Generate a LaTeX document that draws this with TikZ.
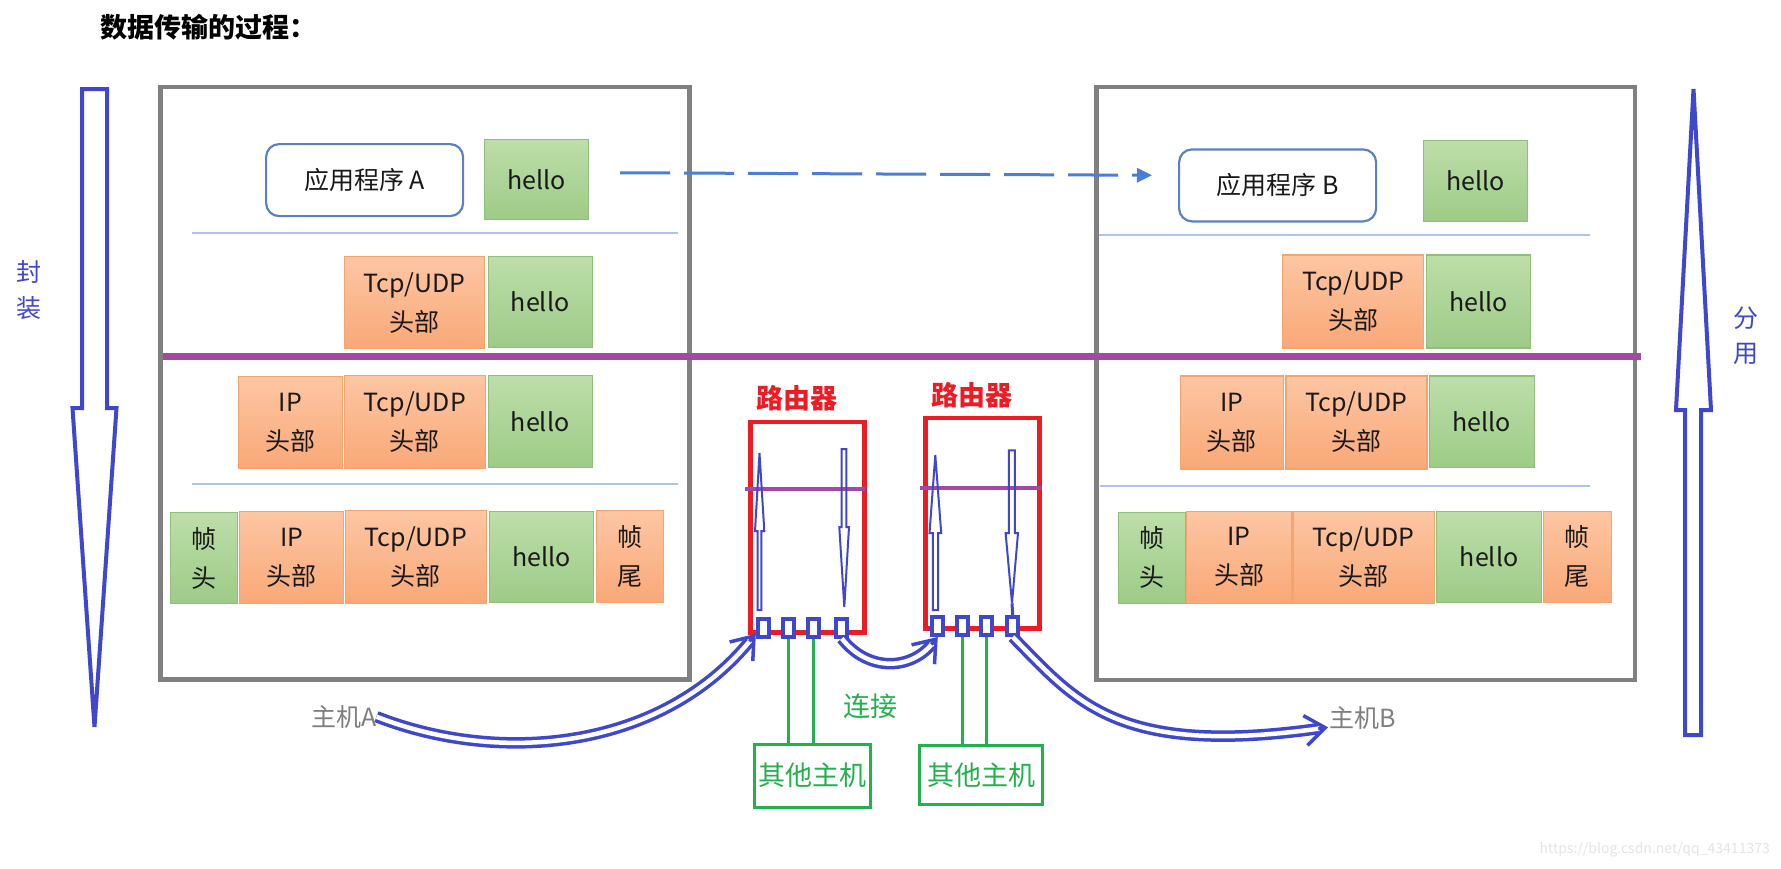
\documentclass[tikz,border=0pt]{standalone}
\usepackage{fontspec}
\setmainfont{Noto Sans CJK SC}
\usetikzlibrary{arrows.meta,calc}
\definecolor{pblue}{HTML}{3F48CC}
\definecolor{pred}{HTML}{ED1C24}
\definecolor{pgreen}{HTML}{22B14C}
\definecolor{ppurple}{HTML}{A349A4}
\definecolor{hgray}{HTML}{808080}
\definecolor{lblue}{HTML}{AFC3E6}
\definecolor{dblue}{HTML}{4A7FD8}
\definecolor{appblue}{HTML}{5B80C8}
\definecolor{orTop}{HTML}{FDC6A3}
\definecolor{orBot}{HTML}{F9A877}
\definecolor{orLine}{HTML}{F6A46E}
\definecolor{grTop}{HTML}{BDDEA9}
\definecolor{grBot}{HTML}{9DCB87}
\definecolor{grLine}{HTML}{8FBF78}
\definecolor{txtgray}{HTML}{7F7F7F}
\definecolor{wmgray}{HTML}{E4E4E4}
\tikzset{
 boxtext/.style={font=\fontsize{25}{39}\selectfont, align=center, inner sep=0pt, anchor=north west, text=black!90},
 obox/.style={boxtext, draw=orLine, line width=1.2pt, top color=orTop, bottom color=orBot},
 gbox/.style={boxtext, draw=grLine, line width=1.2pt, top color=grTop, bottom color=grBot},
 appbox/.style={boxtext, draw=appblue, line width=2.2pt, rounded corners=13pt, fill=white},
 hostframe/.style={draw=hgray, line width=4.5pt},
 layerline/.style={draw=lblue, line width=2pt},
 purpleline/.style={draw=ppurple, line width=7pt},
 rpurple/.style={draw=ppurple, line width=4pt},
 bigarrow/.style={draw=pblue, line width=4pt, line join=miter},
 smallarrow/.style={draw=pblue, line width=2pt},
 routerbox/.style={draw=pred, line width=4.7pt, minimum width=114pt, minimum height=210.4pt, inner sep=0pt, anchor=north west},
 portbox/.style={draw=pblue, line width=4pt, minimum width=11pt, minimum height=18pt, inner sep=0pt, fill=white},
 otherhost/.style={draw=pgreen, line width=3pt, inner sep=0pt, anchor=north west, text=pgreen, font=\fontsize{27}{27}\selectfont},
 greenwire/.style={draw=pgreen, line width=3pt},
 flowtip/.style={draw=pblue, line width=3.5pt, -{Straight Barb[length=20pt,width=30pt]}},
 flowbody/.style={draw=pblue, line width=3.5pt, double=white, double distance=4.5pt, shorten >=10pt},
 dasharrow/.style={draw=dblue, line width=3pt, dash pattern=on 50pt off 14pt, -{Triangle[length=15pt,width=14pt]}},
 sidelabel/.style={text=pblue, font=\fontsize{25}{35.5}\selectfont, align=center, inner sep=0pt},
 hostlabel/.style={text=txtgray, font=\fontsize{25}{25}\selectfont, inner sep=0pt},
 routerlabel/.style={text=pred, font=\fontsize{27}{27}\selectfont\bfseries, inner sep=0pt},
}
\begin{document}
\begin{tikzpicture}[x=1pt,y=-1pt]
\useasboundingbox (0,0) rectangle (1781,868);
\fill[white] (0,0) rectangle (1781,868);

% title
\node[anchor=west, inner sep=0pt, font=\fontsize{27}{27}\selectfont\bfseries] (title) at (100,27) {数据传输的过程：};

% host frames
\draw[hostframe] (160.5,87) rectangle (689.5,679.5);
\draw[hostframe] (1096.5,87) rectangle (1635,680);

% layer lines
\draw[layerline] (192,233) -- (678,233);
\draw[layerline] (192,484) -- (678,484);
\draw[layerline] (1099,235) -- (1590,235);
\draw[layerline] (1100,486) -- (1590,486);

% purple split line
\draw[purpleline] (163,356) -- (1641,356);

% host A boxes
\node[appbox, minimum width=197pt, minimum height=72pt] (appA) at (265,143) {应用程序 A};
\node[gbox, minimum width=104pt, minimum height=80pt] (helloA1) at (484,139) {hello};
\node[obox, minimum width=140pt, minimum height=92pt] (tcpA2) at (344,256) {Tcp/UDP\\头部};
\node[gbox, minimum width=104pt, minimum height=91pt] (helloA2) at (487.5,256) {hello};
\node[obox, minimum width=103.5pt, minimum height=92pt] (ipA3) at (238,376) {IP\\头部};
\node[obox, minimum width=140.5pt, minimum height=93pt] (tcpA3) at (344,375) {Tcp/UDP\\头部};
\node[gbox, minimum width=104pt, minimum height=92pt] (helloA3) at (487.5,375) {hello};
\node[gbox, minimum width=66.5pt, minimum height=91pt] (fhA4) at (170,512) {帧\\头};
\node[obox, minimum width=104pt, minimum height=92pt] (ipA4) at (239,511) {IP\\头部};
\node[obox, minimum width=140.5pt, minimum height=93pt] (tcpA4) at (345,510) {Tcp/UDP\\头部};
\node[gbox, minimum width=104pt, minimum height=91pt] (helloA4) at (489,510.7) {hello};
\node[obox, minimum width=67pt, minimum height=92pt] (ftA4) at (596,510) {帧\\尾};

% host B boxes
\node[appbox, minimum width=197pt, minimum height=72pt] (appB) at (1178,148.3) {应用程序 B};
\node[gbox, minimum width=103.5pt, minimum height=80.7pt] (helloB1) at (1423,140) {hello};
\node[obox, minimum width=141pt, minimum height=93pt] (tcpB2) at (1282,254.3) {Tcp/UDP\\头部};
\node[gbox, minimum width=104pt, minimum height=93pt] (helloB2) at (1425.8,254.3) {hello};
\node[obox, minimum width=103.4pt, minimum height=93pt] (ipB3) at (1179.6,375.3) {IP\\头部};
\node[obox, minimum width=141pt, minimum height=93pt] (tcpB3) at (1285.4,375.3) {Tcp/UDP\\头部};
\node[gbox, minimum width=104.5pt, minimum height=91.5pt] (helloB3) at (1429,375.3) {hello};
\node[gbox, minimum width=67.6pt, minimum height=91pt] (fhB4) at (1117.6,511.7) {帧\\头};
\node[obox, minimum width=105pt, minimum height=92pt] (ipB4) at (1186,510.7) {IP\\头部};
\node[obox, minimum width=141.3pt, minimum height=92pt] (tcpB4) at (1292.4,510.7) {Tcp/UDP\\头部};
\node[gbox, minimum width=105pt, minimum height=91pt] (helloB4) at (1436,510.7) {hello};
\node[obox, minimum width=68pt, minimum height=91pt] (ftB4) at (1542.8,510.7) {帧\\尾};

% dashed arrow app A -> app B
\draw[dasharrow, shorten <=31pt, shorten >=26pt] ([yshift=7pt]helloA1.east) -- ([yshift=10pt]appB.west);

% big side arrows
\draw[bigarrow] (82,89) -- (107,89) -- (107,408) -- (116.5,408) -- (94.5,727) -- (72.5,408) -- (82,408) -- cycle;
\draw[bigarrow] (1685,735) -- (1701,735) -- (1701,410) -- (1711,410) -- (1693.5,89) -- (1676,410) -- (1685,410) -- cycle;
\node[sidelabel] (fengzhuang) at (29,290) {封\\装};
\node[sidelabel] (fenyong) at (1746,336) {分\\用};

% routers
\node[routerbox] (r1) at (748,419.6) {};
\node[routerbox] (r2) at (923,415.6) {};
\node[routerlabel] (r1lab) at (796.5,398) {路由器};
\node[routerlabel] (r2lab) at (971.5,395) {路由器};
\draw[rpurple] (745,489) -- (865,489);
\draw[rpurple] (920,488.3) -- (1041,488.3);

% router internal arrows
\draw[smallarrow] (757.7,610) -- (757.7,531) -- (755,531) -- (759.5,453) -- (764.3,531) -- (761.3,531) -- (761.3,610) -- cycle;
\draw[smallarrow] (841.7,449) -- (846.3,449) -- (846.3,527) -- (849,527) -- (844.3,607) -- (839.3,527) -- (841.7,527) -- cycle;
\draw[smallarrow] (932.9,610) -- (932.9,533) -- (929.5,533) -- (935.3,455) -- (941.2,533) -- (938.1,533) -- (938.1,610) -- cycle;
\draw[smallarrow] (1008.9,450.3) -- (1014.8,450.3) -- (1014.8,533) -- (1018,533) -- (1012,603.3) -- (1005.6,533) -- (1008.9,533) -- cycle;

% ports
\node[portbox] (r1p1) at (763.3,628.3) {};
\node[portbox] (r1p2) at (788.7,628.3) {};
\node[portbox] (r1p3) at (813,628.3) {};
\node[portbox] (r1p4) at (841.8,627.5) {};
\node[portbox] (r2p1) at (937.8,626) {};
\node[portbox] (r2p2) at (962.2,626) {};
\node[portbox] (r2p3) at (986,626) {};
\node[portbox] (r2p4) at (1012.7,626) {};
\draw[smallarrow, line width=3pt] (1012,603.3) -- (r2p4.north);

% other hosts
\node[otherhost, minimum width=116pt, minimum height=63.3pt] (oh1) at (752.5,742.5) {其他主机};
\node[otherhost, minimum width=123pt, minimum height=59pt] (oh2) at (918.2,743.8) {其他主机};
\draw[greenwire] (r1p2.south) -- (r1p2.south |- oh1.north);
\draw[greenwire] (r1p3.south) -- (r1p3.south |- oh1.north);
\draw[greenwire] (r2p2.south) -- (r2p2.south |- oh2.north);
\draw[greenwire] (r2p3.south) -- (r2p3.south |- oh2.north);
\node[text=pgreen, font=\fontsize{27}{27}\selectfont, inner sep=0pt] (lianjie) at (870.3,706) {连接};

% host labels
\node[hostlabel] (hostA) at (343.7,716.7) {主机A};
\node[hostlabel] (hostB) at (1362.5,718.3) {主机B};

% flows
\coordinate (r1tip) at ($(r1p1.west)!0.5!(r1p1.south west)$);
\coordinate (hBtip) at ($(hostB.west)+(-1,9)$);
\draw[flowtip] (hostA.east) .. controls (500,765) and (660,750) .. (r1tip);
\draw[flowbody] (hostA.east) .. controls (500,765) and (660,750) .. (r1tip);
\draw[flowtip] (r1p4.south) .. controls (868,672) and (910,670) .. (r2p1.south);
\draw[flowbody] (r1p4.south) .. controls (868,672) and (910,670) .. (r2p1.south);
\draw[flowtip] (r2p4.south) .. controls (1075,700) and (1115,757) .. (hBtip);
\draw[flowbody] (r2p4.south) .. controls (1075,700) and (1115,757) .. (hBtip);

% watermark
\node[anchor=east, inner sep=0pt, text=wmgray, font=\fontsize{14}{14}\selectfont] (wm) at (1770,850) {https://blog.csdn.net/qq\_43411373};
\end{tikzpicture}
\end{document}
